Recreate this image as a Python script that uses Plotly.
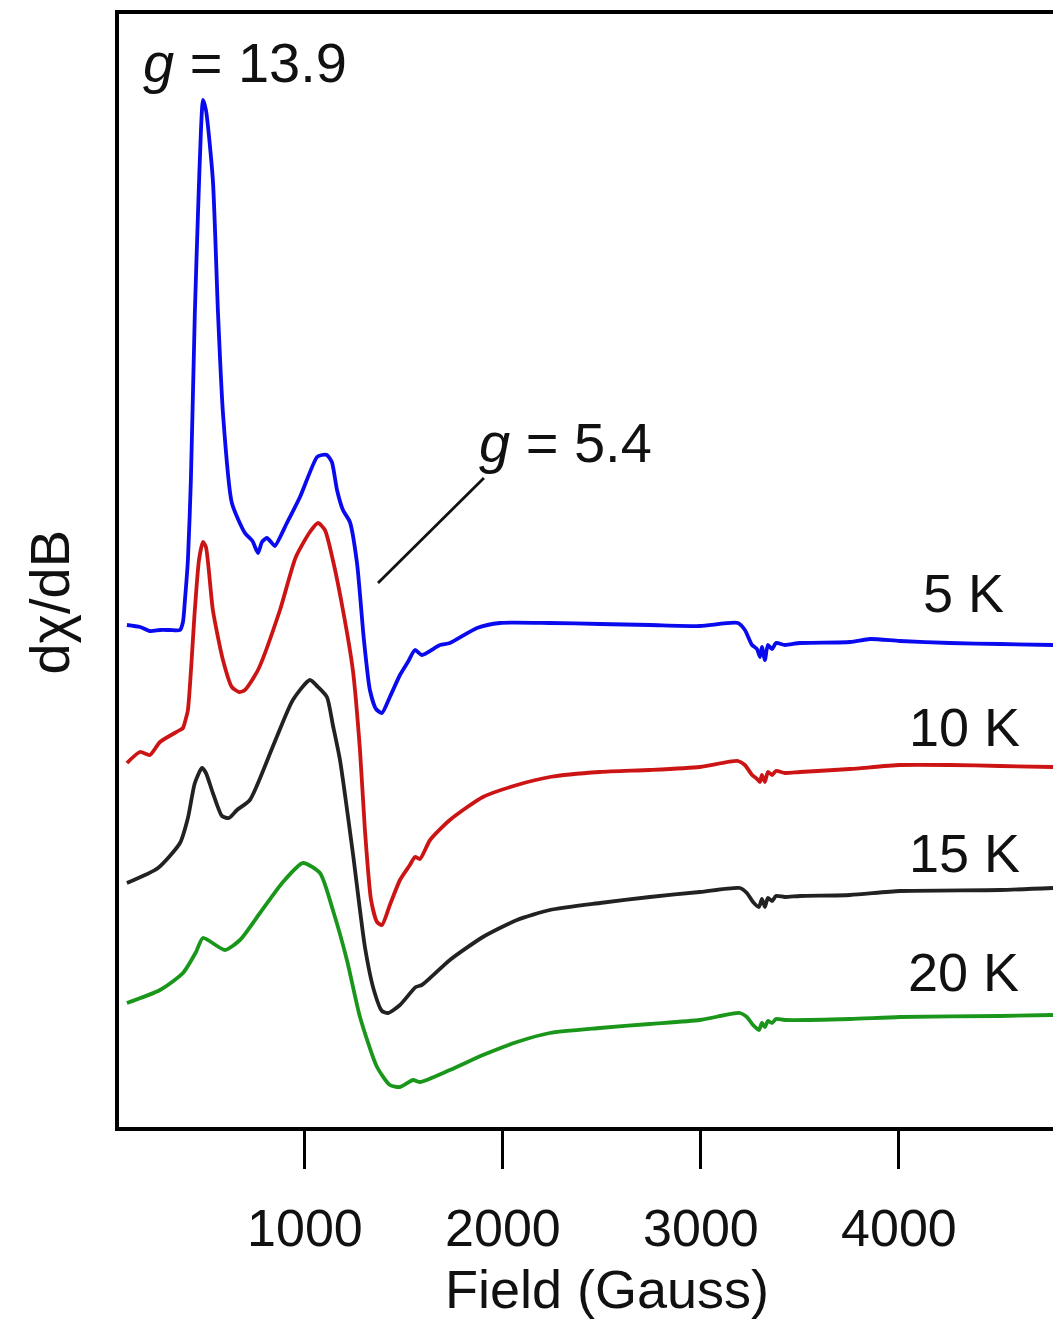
import plotly.graph_objects as go

# Field (Gauss) and signal (arbitrary units, offset-stacked) for each temperature
field_5K = [101, 167, 217, 268, 318, 369, 384, 394, 409, 424, 444, 460, 475, 485, 500, 535, 561, 586, 631, 697, 735, 763, 783, 808, 833, 848, 909, 975, 1061, 1086, 1111, 1136, 1162, 1192, 1227, 1263, 1298, 1328, 1359, 1389, 1429, 1480, 1520, 1556, 1591, 1682, 1732, 1869, 1985, 2237, 2490, 2742, 2995, 3187, 3222, 3258, 3283, 3298, 3308, 3323, 3338, 3359, 3379, 3424, 3500, 3753, 3854, 4005, 4258, 4510, 4778]
signal_5K = [502, 500, 496, 497, 497, 497, 505, 527, 567, 647, 814, 914, 997, 1027, 1017, 947, 814, 714, 624, 594, 586, 574, 585, 589, 584, 581, 604, 630, 670, 672, 672, 665, 637, 617, 605, 564, 487, 437, 418, 414, 430, 452, 465, 477, 472, 482, 484, 499, 504, 504, 503, 502, 501, 504, 497, 482, 478, 470, 480, 467, 482, 478, 484, 482, 484, 485, 488, 486, 484, 483, 482]

field_10K = [101, 167, 217, 268, 369, 384, 394, 409, 444, 465, 485, 500, 535, 586, 631, 667, 697, 763, 874, 954, 1025, 1066, 1101, 1141, 1192, 1242, 1278, 1303, 1334, 1364, 1389, 1429, 1480, 1530, 1556, 1581, 1632, 1732, 1899, 2071, 2237, 2490, 2742, 2995, 3187, 3222, 3258, 3283, 3298, 3308, 3323, 3338, 3359, 3379, 3424, 3500, 3753, 4005, 4258, 4510, 4778]
signal_10K = [364, 375, 372, 385, 397, 399, 405, 417, 517, 567, 585, 580, 517, 467, 440, 435, 437, 457, 517, 570, 595, 604, 597, 567, 517, 457, 377, 297, 227, 205, 202, 222, 247, 262, 270, 268, 287, 307, 330, 342, 350, 355, 357, 360, 366, 362, 352, 348, 345, 352, 345, 355, 352, 356, 354, 355, 358, 362, 362, 361, 360]

field_15K = [101, 258, 369, 409, 444, 480, 500, 535, 581, 616, 657, 722, 837, 939, 1025, 1066, 1111, 1141, 1177, 1242, 1303, 1348, 1389, 1420, 1480, 1560, 1591, 1732, 1899, 2071, 2237, 2490, 2742, 2995, 3197, 3232, 3263, 3293, 3308, 3323, 3338, 3359, 3379, 3424, 3500, 3753, 4005, 4510, 4778]
signal_15K = [244, 259, 284, 309, 344, 359, 354, 334, 311, 309, 317, 327, 380, 427, 447, 440, 430, 402, 367, 274, 180, 137, 116, 114, 122, 140, 142, 167, 190, 207, 217, 224, 230, 235, 239, 234, 225, 220, 228, 220, 229, 226, 231, 230, 231, 232, 236, 237, 239]

field_20K = [101, 268, 384, 450, 485, 596, 672, 773, 889, 990, 1076, 1141, 1212, 1278, 1364, 1429, 1480, 1546, 1581, 1732, 1899, 2071, 2237, 2490, 2742, 2995, 3197, 3232, 3263, 3293, 3308, 3323, 3338, 3359, 3379, 3424, 3753, 4005, 4510, 4778]
signal_20K = [124, 137, 154, 175, 189, 177, 187, 214, 245, 264, 254, 217, 167, 110, 60, 42, 40, 47, 45, 57, 72, 85, 94, 99, 103, 107, 114, 110, 102, 97, 104, 100, 106, 104, 108, 107, 108, 110, 111, 112]

series = [
    ("5 K", field_5K, signal_5K, "#0a0aee"),
    ("10 K", field_10K, signal_10K, "#cc1414"),
    ("15 K", field_15K, signal_15K, "#222222"),
    ("20 K", field_20K, signal_20K, "#1a961a"),
]

# label positions (Gauss, signal units)
label_x = [4325, 4333, 4333, 4325]
label_y = [534, 400, 274, 155]

tick_vals = [1000, 2000, 3000, 4000]
tick_text = ["1000", "2000", "3000", "4000"]

FONT = "Liberation Sans, Arial, sans-serif"

fig = go.Figure()
for name, xs, ys, col in series:
    fig.add_trace(go.Scatter(x=xs, y=ys, mode="lines", name=name,
                             line=dict(color=col, width=3.8, shape="spline", smoothing=0.6),
                             showlegend=False))

for (name, _, _, _), lx, ly in zip(series, label_x, label_y):
    fig.add_annotation(x=lx, y=ly, text=name, showarrow=False,
                       xanchor="center", yanchor="middle",
                       font=dict(family=FONT, size=54, color="#111111"))

fig.add_annotation(x=170, y=1065, text="<i>g</i> = 13.9", showarrow=False,
                   xanchor="left", yanchor="middle",
                   font=dict(family=FONT, size=56, color="#111111"))
fig.add_annotation(x=1870, y=685, text="<i>g</i> = 5.4", showarrow=False,
                   xanchor="left", yanchor="middle",
                   font=dict(family=FONT, size=56, color="#111111"))
fig.add_shape(type="line", x0=1369, y0=544, x1=1904, y1=649,
              line=dict(color="#111111", width=2.8))

# axis titles
fig.add_annotation(xref="paper", yref="paper", x=0.522, y=-0.146,
                   text="Field (Gauss)", showarrow=False,
                   xanchor="center", yanchor="middle",
                   font=dict(family=FONT, size=54, color="#111111"))
fig.add_annotation(xref="paper", yref="paper", x=-0.074, y=0.472,
                   text="dχ/dB", showarrow=False, textangle=-90,
                   xanchor="center", yanchor="middle",
                   font=dict(family=FONT, size=56, color="#111111"))

fig.update_layout(
    width=1053, height=1321,
    margin=dict(l=119, r=0, t=14, b=194),
    paper_bgcolor="white", plot_bgcolor="white",
    xaxis=dict(range=[61, 4778], showgrid=False, zeroline=False,
               showline=True, linecolor="black", linewidth=3.5, mirror=True,
               tickvals=tick_vals, ticktext=tick_text,
               ticks="outside", ticklen=38, tickwidth=3, tickcolor="black",
               ticklabelstandoff=15,
               tickfont=dict(family=FONT, size=52, color="#111111")),
    yaxis=dict(range=[0, 1113], showgrid=False, zeroline=False,
               showline=True, linecolor="black", linewidth=3.5, mirror=False,
               showticklabels=False, ticks=""),
)

fig.write_html("out.html")
